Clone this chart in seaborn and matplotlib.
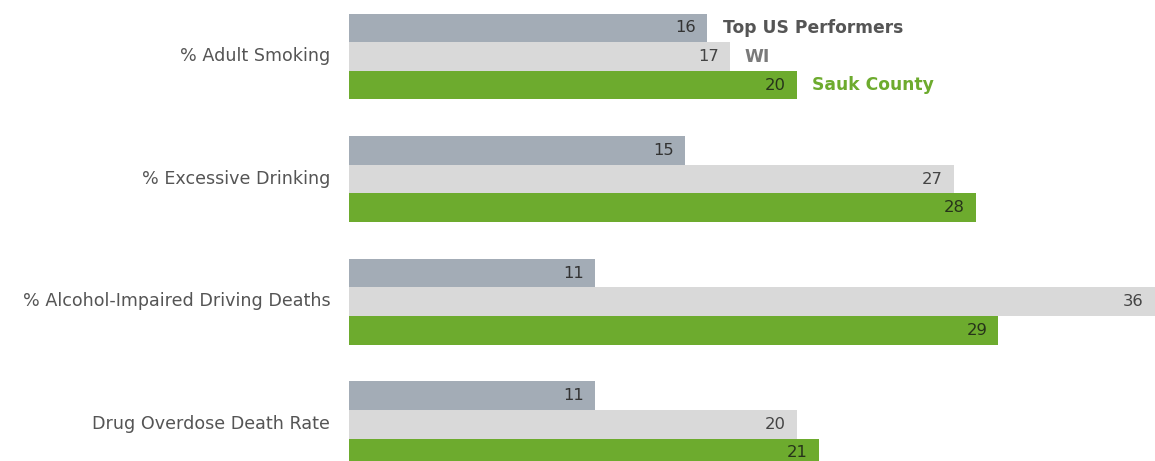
import matplotlib
matplotlib.use("Agg")
import matplotlib.pyplot as plt
import matplotlib.transforms as mtransforms
import seaborn as sns
import pandas as pd

categories = ["% Adult Smoking", "% Excessive Drinking",
              "% Alcohol-Impaired Driving Deaths", "Drug Overdose Death Rate"]
series = ["Top US Performers", "WI", "Sauk County"]
top_us = [16, 15, 11, 11]
wi = [17, 27, 36, 20]
sauk = [20, 28, 29, 21]

colors = ["#a3acb6", "#d9d9d9", "#6dab2e"]
value_colors = ["#333333", "#444444", "#26331a"]
legend_colors = ["#555555", "#7a7a7a", "#6dab2e"]

rows = []
for name, vals in zip(series, [top_us, wi, sauk]):
    for cat, v in zip(categories, vals):
        rows.append({"category": cat, "series": name, "value": v})
df = pd.DataFrame(rows)

sns.set_theme(style="white")
plt.rcParams["font.family"] = ["DejaVu Sans"]

fig = plt.figure(figsize=(11.55, 4.61), dpi=100)
ax = fig.add_axes([0.3022, 0.0, 0.6978, 1.0])

sns.barplot(data=df, y="category", x="value", hue="series",
            hue_order=series, order=categories, palette=colors,
            orient="h", width=0.70, ax=ax, legend=False,
            saturation=1, linewidth=0)

ax.set_xlim(0, 36)
ax.set_ylim(3.30, -0.461)
ax.set_xlabel("")
ax.set_ylabel("")
ax.set_xticks([])
ax.tick_params(axis="y", length=0, pad=13.5, labelsize=12.6, labelcolor="#555555")
# nudge category labels up slightly so they sit on the middle bar
lift = mtransforms.ScaledTranslation(0, 2.5 / 100, fig.dpi_scale_trans)
for lbl in ax.get_yticklabels():
    lbl.set_verticalalignment("center_baseline")
    lbl.set_transform(lbl.get_transform() + lift)
for s in ax.spines.values():
    s.set_visible(False)

# value labels inside the bar ends
for container, vc in zip(ax.containers, value_colors):
    for bar in container:
        w = bar.get_width()
        y = bar.get_y() + bar.get_height() / 2
        ax.annotate(f"{w:g}", (w, y), xytext=(-8, 0), textcoords="offset points",
                    ha="right", va="center", fontsize=11.8, color=vc)

# series names beside the first group's bars
for container, name, lc in zip(ax.containers, series, legend_colors):
    bar = container[0]
    w = bar.get_width()
    y = bar.get_y() + bar.get_height() / 2
    ax.annotate(name, (w, y), xytext=(11, 0), textcoords="offset points",
                ha="left", va="center", fontsize=12.3, fontweight="bold", color=lc)

fig.savefig("out.png", dpi=100)
